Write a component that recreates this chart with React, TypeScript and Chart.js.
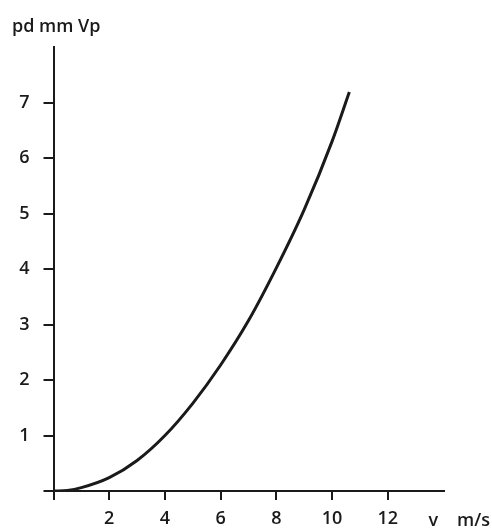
import React, { useEffect, useRef } from 'react';
import { Chart, registerables } from 'chart.js';

Chart.register(...registerables);

const velocity = [0, 0.5, 1, 2, 3, 4, 5, 6, 7, 8, 9, 10, 10.62];
const pressure = [0, 0.01, 0.06, 0.24, 0.55, 1.0, 1.58, 2.27, 3.07, 4.02, 5.07, 6.3, 7.19];
const xMax = 14;
const yMax = 8;
const xStep = 2;
const yStep = 1;
const yAxisLabel = 'pd mm Vp';
const xAxisLabel = ['v', 'm/s'];

const FONT = '"Open Sans", "DejaVu Sans", sans-serif';
const INK = '#1a1a1a';

const axisLabels = {
  id: 'axisLabels',
  afterDraw(chart: any) {
    const ctx = chart.ctx;
    const area = chart.chartArea;
    ctx.save();
    ctx.fillStyle = INK;
    ctx.font = `600 18px ${FONT}`;
    ctx.textBaseline = 'middle';
    ctx.textAlign = 'left';
    ctx.fillText(yAxisLabel, 12, area.top - 20);
    ctx.textAlign = 'right';
    ctx.fillText(xAxisLabel[1], 490, area.bottom + 30);
    ctx.fillText(xAxisLabel[0], 438, area.bottom + 30);
    ctx.restore();
  },
};

export default function App() {
  const ref = useRef<HTMLCanvasElement | null>(null);
  useEffect(() => {
    if (!ref.current) return;
    const chart = new Chart(ref.current, {
      type: 'line',
      data: {
        datasets: [
          {
            data: velocity.map((v, i) => ({ x: v, y: pressure[i] })),
            borderColor: INK,
            borderWidth: 3,
            pointRadius: 0,
            cubicInterpolationMode: 'monotone',
            fill: false,
          },
        ],
      },
      options: {
        animation: false,
        responsive: false,
        maintainAspectRatio: false,
        layout: { padding: { left: 0, top: 47, right: 48.5, bottom: 0 } },
        plugins: { legend: { display: false }, tooltip: { enabled: false }, title: { display: false } },
        scales: {
          x: {
            type: 'linear',
            min: 0,
            max: xMax,
            afterFit: (s: any) => { s.height = 37; },
            ticks: {
              stepSize: xStep,
              color: INK,
              font: { family: FONT, size: 18, weight: '600' },
              padding: 8,
              maxRotation: 0,
              callback: (v: any) => (v === 0 || v === xMax ? '' : String(v)),
            },
            grid: {
              drawOnChartArea: false,
              drawTicks: true,
              tickLength: 9,
              lineWidth: 2,
              color: (c: any) => (c.tick && c.tick.value === xMax ? 'rgba(0,0,0,0)' : INK),
            },
            border: { display: true, color: INK, width: 2 },
          },
          y: {
            type: 'linear',
            min: 0,
            max: yMax,
            afterFit: (s: any) => { s.width = 53.5; },
            ticks: {
              stepSize: yStep,
              color: INK,
              font: { family: FONT, size: 18, weight: '600' },
              padding: 14,
              callback: (v: any) => (v === 0 || v === yMax ? '' : String(v)),
            },
            grid: {
              drawOnChartArea: false,
              drawTicks: true,
              tickLength: 10,
              lineWidth: 2,
              color: (c: any) => (c.tick && c.tick.value === yMax ? 'rgba(0,0,0,0)' : INK),
            },
            border: { display: true, color: INK, width: 2 },
          },
        },
      },
      plugins: [axisLabels],
    });
    return () => chart.destroy();
  }, []);
  return (
    <div style={{ position: 'fixed', left: 0, top: 0, width: 492, height: 528, background: '#fff' }}>
      <canvas ref={ref} width={492} height={528} style={{ width: 492, height: 528, display: 'block' }} />
    </div>
  );
}
